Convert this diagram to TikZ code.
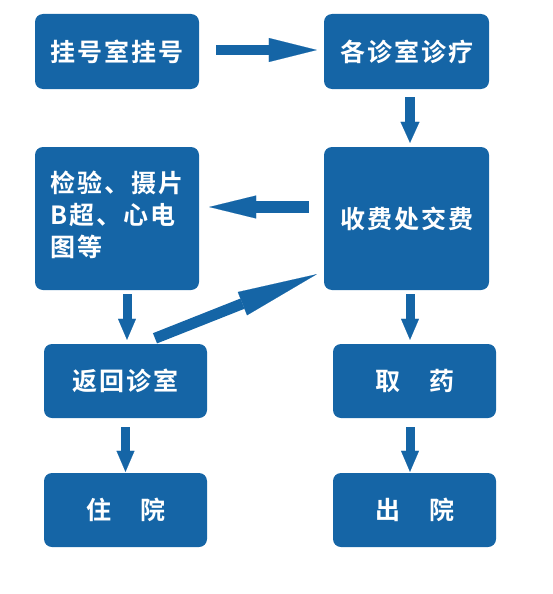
\documentclass[tikz,border=0pt]{standalone}
\usepackage{fontspec}
\usetikzlibrary{arrows.meta}
\newfontfamily\cjk{Noto Sans CJK SC}[BoldFont={Noto Sans CJK SC Bold},LetterSpace=8]
\definecolor{bluec}{RGB}{21,101,166}
\tikzset{
  boxtext/.style={text=white, font=\cjk\bfseries\fontsize{25}{32}\selectfont},
  box/.style={boxtext, fill=bluec, draw=none, rounded corners=8pt, inner sep=0pt},
  arr/.style n args={3}{draw=bluec, line width=#1,
    -{Triangle[width=#2,length=#3,line width=0.1pt]}},
}
\begin{document}
\begin{tikzpicture}[x=1pt,y=-1pt]
\useasboundingbox (0,0) rectangle (553,594);
\node[box, minimum width=164pt, minimum height=75pt] (b1) at (117,51.5) {挂号室挂号};
\node[box, minimum width=165pt, minimum height=75pt] (b2) at (406.5,51.5) {各诊室诊疗};
\node[box, minimum width=164pt, minimum height=143pt] (b3) at (117,218.5) {};
\node[boxtext, align=left, inner sep=0pt] (t3) at (117,215) {检验、摄片\\B超、心电\\图等};
\node[box, minimum width=165pt, minimum height=143pt] (b4) at (406.5,218.5) {收费处交费};
\node[box, minimum width=163pt, minimum height=74pt] (b5) at (125.5,381) {返回诊室};
\node[box, minimum width=163pt, minimum height=74pt] (b6) at (414.5,381) {取　药};
\node[box, minimum width=163pt, minimum height=74pt] (b7) at (125.5,510) {住　院};
\node[box, minimum width=163pt, minimum height=74pt] (b8) at (414.5,510) {出　院};
% arrows
\draw[arr={10pt}{24pt}{48pt}] ([shift={(17,-1.5)}]b1.east) -- ([shift={(-7,-1.5)}]b2.west);
\draw[arr={10pt}{19pt}{21pt}] ([shift={(3.5,8)}]b2.south) -- ([shift={(3.5,-4)}]b4.north);
\draw[arr={12pt}{23pt}{47pt}] ([shift={(-15,-11.5)}]b4.west) -- ([shift={(10,-11.5)}]b3.east);
\draw[arr={9pt}{18pt}{21pt}] ([shift={(10,4)}]b3.south) -- ([shift={(1.5,-4)}]b5.north);
\draw[arr={11pt}{25pt}{80pt}] ([shift={(29.5,-5.5)}]b5.north) -- ([shift={(-7,-16)}]b4.south west);
\draw[arr={9pt}{18pt}{21pt}] ([shift={(3.5,4)}]b4.south) -- ([shift={(-4.5,-4)}]b6.north);
\draw[arr={9pt}{18pt}{21pt}] ([shift={(0,9)}]b5.south) -- ([shift={(0,-1)}]b7.north);
\draw[arr={9pt}{18pt}{21pt}] ([shift={(-4.5,9)}]b6.south) -- ([shift={(-4.5,-1)}]b8.north);
\end{tikzpicture}
\end{document}
